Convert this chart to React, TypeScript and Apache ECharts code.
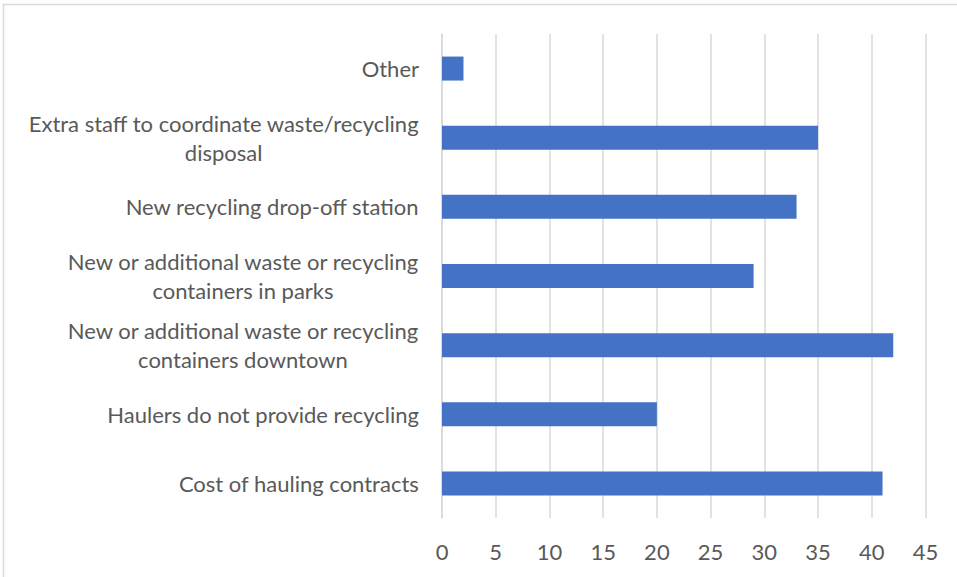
import React, { useEffect, useRef } from "react";
import * as echarts from "echarts";

const categories = [
  "Cost of hauling contracts",
  "Haulers do not provide recycling",
  "New or additional waste or recycling\ncontainers downtown",
  "New or additional waste or recycling\ncontainers in parks",
  "New recycling drop-off station",
  "Extra staff to coordinate waste/recycling\ndisposal",
  "Other",
];
const values = [41, 20, 42, 29, 33, 35, 2];
const xMin = 0;
const xMax = 45;
const xInterval = 5;

export default function App() {
  const ref = useRef<HTMLDivElement>(null);
  useEffect(() => {
    const chart = echarts.init(ref.current!, null, { renderer: "svg" });
    const font = "Lato";
    chart.setOption({
      animation: false,
      backgroundColor: "#ffffff",
      textStyle: { fontFamily: font },
      graphic: [
        {
          type: "rect",
          shape: { x: 3.5, y: 4.5, width: 1000, height: 1000 },
          style: { fill: "none", stroke: "#d9d9d9", lineWidth: 1.5 },
          silent: true,
        },
      ],
      grid: { left: 442, top: 34, right: 31.5, bottom: 59, containLabel: false },
      xAxis: {
        type: "value",
        min: xMin,
        max: xMax,
        interval: xInterval,
        axisLine: { show: false },
        axisTick: { show: false },
        splitLine: { show: true, lineStyle: { color: "#d9d9d9", width: 1.5 } },
        axisLabel: { color: "#595959", fontSize: 22, fontFamily: font, margin: 22 },
      },
      yAxis: {
        type: "category",
        data: categories,
        axisLine: { show: true, lineStyle: { color: "#d9d9d9", width: 1.5 } },
        axisTick: { show: false },
        axisLabel: {
          color: "#595959",
          fontSize: 22,
          fontFamily: font,
          margin: 23,
          align: "right",
          lineHeight: 29,
          formatter: (v: string) =>
            v
              .split("\n")
              .map((s) => "{c|" + s + "}")
              .join("\n"),
          rich: {
            c: {
              align: "center",
              color: "#595959",
              fontSize: 22,
              fontFamily: font,
              lineHeight: 29,
            },
          },
        },
      },
      series: [
        {
          type: "bar",
          data: values,
          barWidth: 24,
          itemStyle: { color: "#4472c4" },
        },
      ],
    });
    return () => chart.dispose();
  }, []);
  return <div ref={ref} style={{ width: 957, height: 577, position: "absolute", left: 0, top: 0 }} />;
}
